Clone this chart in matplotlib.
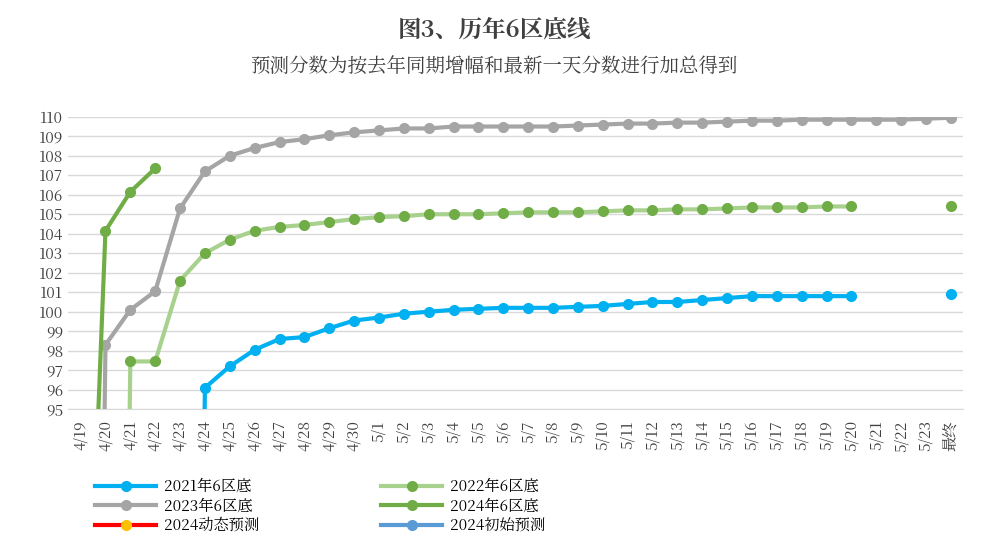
import numpy as np
import matplotlib.pyplot as plt
from matplotlib import font_manager

cjk = [f.name for f in font_manager.fontManager.ttflist if 'CJK' in f.name]
plt.rcParams['font.family'] = ['Noto Sans CJK SC'] + cjk + ['DejaVu Sans']

nan = np.nan
dates = [f"4/{d}" for d in range(19, 31)] + [f"5/{d}" for d in range(1, 24)] + ["最终"]

# values start at 4/19; off-chart lows reproduce the clipped drop lines
s2021 = [nan, nan, nan, nan, 0, 96.1, 97.2, 98.05, 98.6, 98.7, 99.15, 99.55,
         99.7, 99.9, 100.0, 100.1, 100.15, 100.2, 100.2, 100.2, 100.25, 100.3, 100.4, 100.5,
         100.5, 100.6, 100.7, 100.8, 100.8, 100.8, 100.8, 100.8, nan, nan, nan, 100.9]
s2022 = [nan, 0, 97.45, 97.45, 101.6, 103.0, 103.7, 104.15, 104.35, 104.45, 104.6, 104.75,
         104.85, 104.9, 105.0, 105.0, 105.0, 105.05, 105.1, 105.1, 105.1, 105.15, 105.2, 105.2,
         105.25, 105.25, 105.3, 105.35, 105.35, 105.35, 105.4, 105.4, nan, nan, nan, 105.4]
s2023 = [0, 98.3, 100.1, 101.05, 105.3, 107.2, 108.0, 108.4, 108.7, 108.85, 109.05, 109.2,
         109.3, 109.4, 109.4, 109.5, 109.5, 109.5, 109.5, 109.5, 109.55, 109.6, 109.65, 109.65,
         109.7, 109.7, 109.75, 109.8, 109.8, 109.85, 109.85, 109.85, 109.85, 109.85, 109.9, 109.95]
s2024 = [72, 104.15, 106.15, 107.35] + [nan] * 32

x = np.arange(len(dates))
fig = plt.figure(figsize=(9.88, 5.56), dpi=100)
ax = fig.add_axes([0.069, 0.264, 0.906, 0.526])

l21, = ax.plot(x, s2021, '-o', color='#00B0F0', lw=3, ms=7, label='2021年6区底', zorder=4)
l22, = ax.plot(x, s2022, '-o', color='#A9D18E', mfc='#70AD47', mec='#70AD47', lw=3, ms=7, label='2022年6区底', zorder=3)
l23, = ax.plot(x, s2023, '-o', color='#A5A5A5', lw=3, ms=7, label='2023年6区底', zorder=3)
l24, = ax.plot(x, s2024, '-o', color='#70AD47', lw=3, ms=7, label='2024年6区底', zorder=4)
ldyn, = ax.plot([], [], '-o', color='#FF0000', mfc='#FFC000', mec='#FFC000', lw=3, ms=7, label='2024动态预测')
lini, = ax.plot([], [], '-o', color='#5B9BD5', lw=3, ms=7, label='2024初始预测')

ax.set_xlim(-0.5, len(dates) - 0.5)
ax.set_ylim(95, 110)
ax.set_yticks(range(95, 111))
ax.set_xticks(x)
ax.set_xticklabels(dates, rotation=90, fontsize=11, color='#404040')
ax.tick_params(axis='y', labelsize=11, labelcolor='#404040', length=0)
ax.tick_params(axis='x', length=0, pad=8)
ax.grid(axis='y', color='#D9D9D9', lw=1)
ax.set_axisbelow(True)
for sp in ['top', 'right', 'left']:
    ax.spines[sp].set_visible(False)
ax.spines['bottom'].set_color('#D9D9D9')

fig.text(0.5, 0.935, '图3、历年6区底线', ha='center', fontsize=17, fontweight='bold', color='#404040')
fig.text(0.5, 0.87, '预测分数为按去年同期增幅和最新一天分数进行加总得到', ha='center', fontsize=14, color='#404040')

h = [l21, l23, ldyn, l22, l24, lini]
fig.legend(h, [a.get_label() for a in h], ncol=2, loc='upper left', bbox_to_anchor=(0.09, 0.15),
           frameon=False, fontsize=11, columnspacing=8, handlelength=4, labelspacing=0.2,
           borderaxespad=0, handletextpad=0.5)

fig.savefig('out.png')
